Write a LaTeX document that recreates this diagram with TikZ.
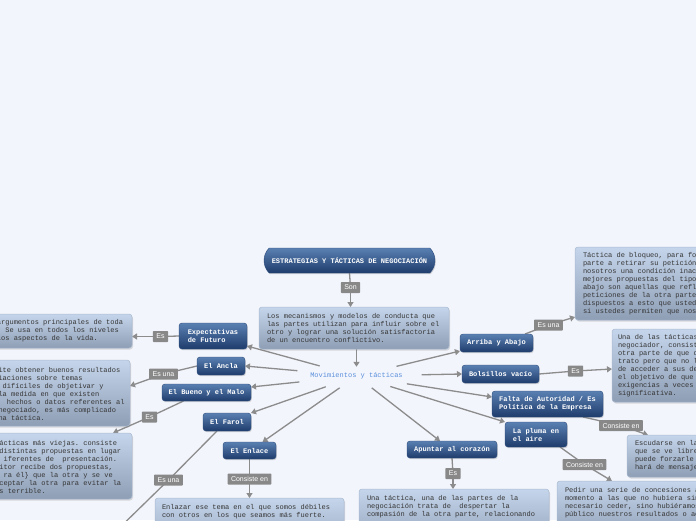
\documentclass[tikz,border=0pt]{standalone}
\usepackage{fontspec}
\setmainfont{Liberation Serif}
\setmonofont{Liberation Mono}
\setsansfont{Liberation Sans}
\usetikzlibrary{arrows.meta,shapes.misc,shapes.geometric,shadows,calc}
\definecolor{bgc}{HTML}{F2F5FC}
\definecolor{bt}{HTML}{5A80B2}
\definecolor{bb}{HTML}{1E3C6C}
\definecolor{bd}{HTML}{2B4A7A}
\definecolor{lt}{HTML}{C5D5EB}
\definecolor{lb}{HTML}{8E9EB5}
\definecolor{ld}{HTML}{A9B9D0}
\definecolor{tc}{HTML}{353535}
\definecolor{lc}{HTML}{8C8C8C}
\definecolor{lg}{HTML}{888888}
\definecolor{movc}{HTML}{5B8FDB}
\pgfdeclarelayer{back}
\pgfdeclarelayer{lines}
\pgfsetlayers{back,lines,main}
\tikzset{
  conn/.style={draw=lc, line width=1.3pt},
  arr/.style={-{Triangle[length=5pt,width=6pt]}},
  bluebox/.style={rectangle, rounded corners=3pt, top color=bt, bottom color=bb, draw=bd, line width=0.4pt,
    text=white, font=\ttfamily\bfseries\fontsize{7}{8}\selectfont, align=left, inner sep=0pt, outer sep=0pt,
    drop shadow={shadow xshift=0.8pt, shadow yshift=-1.2pt, opacity=0.3}},
  lightbox/.style={rectangle, rounded corners=3pt, top color=lt, bottom color=lb, draw=ld, line width=0.5pt,
    inner sep=0pt, outer sep=0pt, anchor=north west,
    drop shadow={shadow xshift=1pt, shadow yshift=-1.5pt, opacity=0.25}},
  boxtext/.style={anchor=north west, inner sep=0pt, outer sep=0pt, align=left, text=tc,
    font=\ttfamily\fontsize{7}{8}\selectfont},
  lbl/.style={fill=lg, text=white, font=\sffamily\fontsize{7}{8}\selectfont, inner xsep=3.5pt, inner ysep=0pt,
    minimum height=11pt, rounded corners=0.8pt, outer sep=0pt}
}
\begin{document}
\begin{tikzpicture}[x=1pt,y=-1pt]
\useasboundingbox (0,0) rectangle (696,520);
\begin{pgfonlayer}{back}
\fill[bgc] (0,0) rectangle (696,520);
\end{pgfonlayer}
\clip (0,0) rectangle (696,520);

% root
\node[rounded rectangle, rounded rectangle arc length=90, minimum width=171pt, minimum height=25pt,
  top color=bt, bottom color=bb, draw=bd, line width=0.4pt, text=white, inner sep=0pt,
  font=\ttfamily\bfseries\fontsize{7}{8}\selectfont,
  drop shadow={shadow xshift=0.8pt, shadow yshift=-1.2pt, opacity=0.3}] (root) at (349.5,260.5) {ESTRATEGIAS Y TÁCTICAS DE NEGOCIACIÓN};

% light boxes
\node[lightbox, minimum width=190pt, minimum height=42pt] (mec) at (259,307) {};
\node[boxtext] (mect) at (267,312.4) {\strut Los mecanismos y modelos de conducta que\\\strut las partes utilizan para influir sobre el\\\strut otro y lograr una solución satisfactoria\\\strut de un encuentro conflictivo.};

\node[lightbox, minimum width=142pt, minimum height=34pt] (L1) at (-10,314) {};
\node[boxtext] (L1t) at (-3,318.4) {\strut argumentos principales de toda\\\strut . Se usa en todos los niveles\\\strut los aspectos de la vida.};

\node[lightbox, minimum width=140pt, minimum height=66pt] (L2) at (-10,360) {};
\node[boxtext] (L2t) at (-1.5,366.4) {\strut ite obtener buenos resultados\\\strut iaciones sobre temas\\\strut\hphantom{x}difíciles de objetivar y\\\strut la medida en que existen\\\strut\hphantom{xx}hechos o datos referentes al\\\strut negociado, es más complicado\\\strut na táctica.};

\node[lightbox, minimum width=142pt, minimum height=66pt] (L3) at (-10,433) {};
\node[boxtext] (L3t) at (-0.6,439.4) {\strut ácticas más viejas. consiste\\\strut distintas propuestas en lugar\\\strut\hphantom{x}iferentes de\ \ presentación.\\\strut itor recibe dos propuestas,\\\strut\hphantom{x}ra él\} que la otra y se ve\\\strut ceptar la otra para evitar la\\\strut s terrible.};

\node[lightbox, minimum width=189pt, minimum height=60pt] (enl) at (155,498) {};
\node[boxtext] (enlt) at (162,503.4) {\strut Enlazar ese tema en el que somos débiles\\\strut con otros en los que seamos más fuerte.};

\node[lightbox, minimum width=190pt, minimum height=60pt] (unat) at (359,489) {};
\node[boxtext] (unatt) at (367,494.4) {\strut Una táctica, una de las partes de la\\\strut negociación trata de\ \ despertar la\\\strut compasión de la otra parte, relacionando};

\node[lightbox, minimum width=160pt, minimum height=60pt] (pedir) at (557,481) {};
\node[boxtext] (pedirt) at (565,486.4) {\strut Pedir una serie de concesiones a\\\strut momento a las que no hubiera sin\\\strut necesario ceder, sino hubiéramos\\\strut público nuestros resultados o ac};

\node[lightbox, minimum width=90pt, minimum height=42pt] (esc) at (627,435) {};
\node[boxtext] (esct) at (635,439.4) {\strut Escudarse en la\\\strut que se ve libre\\\strut puede forzarle\\\strut hará de mensaje};

\node[lightbox, minimum width=100pt, minimum height=73pt] (unad) at (612,329) {};
\node[boxtext] (unadt) at (618,333.4) {\strut Una de las tácticas\\\strut negociador, consist\\\strut otra parte de que c\\\strut trato pero que no l\\\strut de acceder a sus de\\\strut el objetivo de que\\\strut exigencias a veces\\\strut significativa.};

\node[lightbox, minimum width=140pt, minimum height=73pt] (bloq) at (575,247) {};
\node[boxtext] (bloqt) at (583,251.4) {\strut Táctica de bloqueo, para fo\\\strut parte a retirar su petición\\\strut nosotros una condición inac\\\strut mejores propuestas del tipo\\\strut abajo son aquellas que refl\\\strut peticiones de la otra parte\\\strut dispuestos a esto que usted\\\strut si ustedes permiten que nos};

% centre
\node[ellipse, minimum width=124pt, minimum height=24pt, inner sep=0pt, text=movc,
  font=\ttfamily\fontsize{7}{8}\selectfont] (mov) at (356.5,376) {Movimientos y tácticas};

% blue nodes
\node[bluebox, minimum width=68pt, minimum height=26pt] (exp) at (213,336) {Expectativas\\de Futuro};
\node[bluebox, minimum width=48pt, minimum height=18pt] (ancla) at (221,366) {El Ancla};
\node[bluebox, minimum width=89pt, minimum height=17pt] (bueno) at (206.5,392.5) {El Bueno y el Malo};
\node[bluebox, minimum width=48pt, minimum height=18pt] (farol) at (227,422) {El Farol};
\node[bluebox, minimum width=53pt, minimum height=17pt] (enlace) at (249.5,450.5) {El Enlace};
\node[bluebox, minimum width=90pt, minimum height=17pt] (apuntar) at (452,449.5) {Apuntar al corazón};
\node[bluebox, minimum width=62pt, minimum height=25pt] (pluma) at (536,434.5) {La pluma en\\el aire};
\node[bluebox, minimum width=111pt, minimum height=26pt] (falta) at (547.5,404) {Falta de Autoridad / Es\\Política de la Empresa};
\node[bluebox, minimum width=77pt, minimum height=18pt] (bolsillos) at (500.5,374) {Bolsillos vacío};
\node[bluebox, minimum width=73pt, minimum height=18pt] (arriba) at (496.5,343) {Arriba y Abajo};

% labels
\node[lbl] (son) at (350.5,287.5) {Son};
\node[lbl] (es1) at (160.5,336.5) {Es};
\node[lbl] (esuna1) at (163.5,374) {Es una};
\node[lbl] (es2) at (149.5,417) {Es};
\node[lbl] (esuna2) at (168.5,480) {Es una};
\node[lbl] (cons1) at (249.5,479) {Consiste en};
\node[lbl] (es3) at (453,473.5) {Es};
\node[lbl] (cons2) at (584.5,464.5) {Consiste en};
\node[lbl] (cons3) at (621,425.5) {Consiste en};
\node[lbl] (es4) at (575.5,371) {Es};
\node[lbl] (esuna3) at (548.5,325) {Es una};

\coordinate (offL) at (107,540);

\begin{pgfonlayer}{lines}
\draw[conn] (root.south) -- (son.center);
\draw[conn,arr] (son.center) -- (son |- mec.north);
\draw[conn,arr] (mov.north |- mec.south) -- ([yshift=-3pt]mov.north);
\draw[conn,arr] (mov) -- ([yshift=3pt]exp.south east);
\draw[conn,arr] (mov) -- (ancla.east);
\draw[conn,arr] (mov) -- ([yshift=-3pt]bueno.north east);
\draw[conn,arr] (mov) -- (farol.north east);
\draw[conn,arr] (mov) -- ([xshift=13pt]enlace.north);
\draw[conn,arr] (mov) -- ([xshift=-12pt]apuntar.north);
\draw[conn,arr] (mov) -- (pluma.north west);
\draw[conn,arr] (mov) -- ([yshift=-6pt]falta.north west);
\draw[conn,arr] (mov) -- (bolsillos.west);
\draw[conn,arr] (mov) -- ([yshift=1pt]arriba.south west);
\draw[conn] (exp.west) -- (es1.center);
\draw[conn,arr] (es1.center) -- (es1 -| L1.east);
\draw[conn] (ancla.west) -- (esuna1.center);
\draw[conn,arr] (esuna1.center) -- ([yshift=7pt]L2.east);
\draw[conn] ([xshift=-23pt]bueno.south) -- (es2.center);
\draw[conn,arr] (es2.center) -- ([xshift=-19pt]L3.north east);
\draw[conn] ([xshift=14pt]farol.south west) -- (esuna2.center) -- (offL);
\draw[conn] (enlace.south) -- (cons1.center);
\draw[conn,arr] (cons1.center) -- (enl.north);
\draw[conn] (apuntar.south) -- (es3.center);
\draw[conn,arr] (es3.center) -- (es3 |- unat.north);
\draw[conn] ([xshift=-7pt]pluma.south east) -- (cons2.center);
\draw[conn,arr] (cons2.center) -- ([xshift=55pt]pedir.north west);
\draw[conn] ([xshift=-20pt]falta.south east) -- (cons3.center);
\draw[conn,arr] (cons3.center) -- ([xshift=21pt]esc.north west);
\draw[conn] (bolsillos.east) -- (es4.center);
\draw[conn,arr] (es4.center) -- ([yshift=-3.5pt]unad.west);
\draw[conn] ([xshift=-8pt]arriba.north east) -- (esuna3.center);
\draw[conn,arr] (esuna3.center) -- ([yshift=3pt]bloq.south west);
\end{pgfonlayer}
\end{tikzpicture}
\end{document}
